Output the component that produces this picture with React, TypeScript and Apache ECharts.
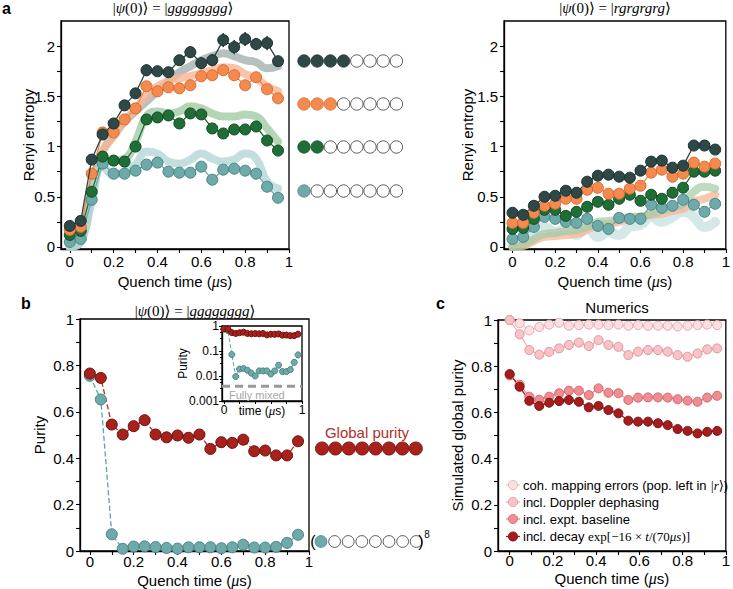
import React, { useEffect, useRef } from "react";
import * as echarts from "echarts";

const SANS = '"Liberation Sans", Arial, Helvetica, sans-serif';
const SERIF = '"Liberation Serif", "DejaVu Serif", "Times New Roman", serif';

// ---------- panel a (quench times) ----------
const tA = [0, 0.05, 0.1, 0.15, 0.2, 0.25, 0.3, 0.35, 0.4, 0.45, 0.5, 0.55, 0.6, 0.65, 0.7, 0.75, 0.8, 0.85, 0.9, 0.95];

// |gggggggg> : subsystem sizes 4,3,2,1
const aL_dark = [0.21, 0.26, 0.87, 1.12, 1.23, 1.41, 1.53, 1.76, 1.75, 1.74, 1.86, 1.94, 1.83, 1.86, 2.06, 1.99, 2.07, 2.02, 2.03, 1.85];
const aL_darkErr = [0.03, 0.03, 0.04, 0.04, 0.05, 0.05, 0.05, 0.06, 0.05, 0.05, 0.05, 0.06, 0.06, 0.06, 0.07, 0.07, 0.07, 0.06, 0.07, 0.05];
const aL_orange = [0.17, 0.2, 0.73, 1.14, 1.14, 1.27, 1.38, 1.6, 1.55, 1.59, 1.58, 1.61, 1.7, 1.71, 1.76, 1.71, 1.61, 1.69, 1.57, 1.48];
const aL_green = [0.12, 0.16, 0.55, 0.9, 0.86, 0.85, 1.0, 1.27, 1.29, 1.31, 1.23, 1.33, 1.32, 1.18, 1.13, 1.17, 1.17, 1.2, 1.06, 0.96];
const aL_teal = [0.05, 0.08, 0.47, 0.83, 0.73, 0.73, 0.76, 0.82, 0.84, 0.75, 0.74, 0.74, 0.8, 0.67, 0.77, 0.78, 0.76, 0.73, 0.6, 0.49];
// theory
const aL_thDark = [0.0, 0.1, 0.6, 0.95, 1.12, 1.25, 1.35, 1.45, 1.55, 1.65, 1.74, 1.8, 1.86, 1.9, 1.93, 1.9, 1.86, 1.84, 1.78, 1.8];
const aL_thOrange = [0.0, 0.1, 0.6, 0.95, 1.1, 1.25, 1.38, 1.5, 1.6, 1.65, 1.68, 1.7, 1.73, 1.76, 1.79, 1.78, 1.72, 1.68, 1.6, 1.55];
const aL_thGreen = [0.0, 0.05, 0.5, 0.85, 0.86, 0.88, 1.05, 1.3, 1.35, 1.33, 1.35, 1.4, 1.38, 1.33, 1.3, 1.3, 1.32, 1.3, 1.18, 1.05];
const aL_thTeal = [0.0, 0.05, 0.45, 0.8, 0.72, 0.75, 0.82, 0.95, 0.93, 0.85, 0.83, 0.87, 0.93, 0.88, 0.85, 0.87, 0.93, 0.88, 0.65, 0.58];

// |rgrgrgrg>
const aR_dark = [0.34, 0.32, 0.41, 0.5, 0.51, 0.56, 0.54, 0.65, 0.71, 0.72, 0.7, 0.69, 0.76, 0.85, 0.86, 0.79, 0.81, 1.01, 1.01, 0.97];
const aR_orange = [0.24, 0.24, 0.34, 0.41, 0.43, 0.48, 0.48, 0.57, 0.59, 0.53, 0.53, 0.58, 0.61, 0.74, 0.77, 0.7, 0.73, 0.84, 0.8, 0.83];
const aR_green = [0.18, 0.19, 0.28, 0.37, 0.37, 0.31, 0.35, 0.4, 0.45, 0.42, 0.48, 0.52, 0.46, 0.52, 0.48, 0.54, 0.59, 0.75, 0.75, 0.76];
const aR_teal = [0.08, 0.1, 0.2, 0.3, 0.28, 0.25, 0.24, 0.28, 0.21, 0.18, 0.29, 0.28, 0.28, 0.42, 0.39, 0.41, 0.47, 0.42, 0.35, 0.43];
const aR_thGreen = [0.0, 0.02, 0.08, 0.13, 0.14, 0.16, 0.17, 0.2, 0.25, 0.26, 0.27, 0.3, 0.3, 0.33, 0.36, 0.4, 0.43, 0.55, 0.6, 0.58];
const aR_thOrange = [0.0, 0.01, 0.06, 0.1, 0.11, 0.12, 0.13, 0.17, 0.22, 0.23, 0.25, 0.28, 0.3, 0.32, 0.33, 0.36, 0.38, 0.45, 0.48, 0.52];
const aR_thTeal = [0.02, 0.08, 0.15, 0.2, 0.15, 0.18, 0.12, 0.2, 0.1, 0.15, 0.12, 0.2, 0.22, 0.3, 0.25, 0.3, 0.35, 0.3, 0.2, 0.25];

// ---------- panel b ----------
const bGlobal = [0.765, 0.746, 0.545, 0.502, 0.538, 0.564, 0.502, 0.49, 0.498, 0.488, 0.502, 0.44, 0.469, 0.466, 0.48, 0.43, 0.433, 0.412, 0.412, 0.473];
const bProduct = [0.755, 0.653, 0.072, 0.0095, 0.019, 0.02, 0.017, 0.013, 0.01, 0.016, 0.016, 0.016, 0.012, 0.016, 0.027, 0.015, 0.015, 0.018, 0.035, 0.07];
const fullyMixed = 1 / 256;

// ---------- panel c ----------
const tC = [0, 0.046, 0.091, 0.137, 0.183, 0.229, 0.274, 0.32, 0.366, 0.411, 0.457, 0.503, 0.549, 0.594, 0.64, 0.686, 0.731, 0.777, 0.823, 0.869, 0.914, 0.96];
const cCoh = [1.0, 0.986, 0.955, 0.97, 0.98, 0.988, 0.975, 0.978, 0.98, 0.98, 0.978, 0.98, 0.975, 0.978, 0.975, 0.975, 0.975, 0.972, 0.975, 0.978, 0.98, 0.978];
const cDoppler = [1.0, 0.938, 0.87, 0.85, 0.862, 0.877, 0.892, 0.902, 0.887, 0.913, 0.892, 0.884, 0.848, 0.863, 0.87, 0.87, 0.863, 0.848, 0.841, 0.855, 0.873, 0.877];
const cBaseline = [0.76, 0.72, 0.668, 0.655, 0.668, 0.683, 0.694, 0.694, 0.675, 0.704, 0.685, 0.683, 0.654, 0.664, 0.665, 0.665, 0.664, 0.657, 0.651, 0.646, 0.664, 0.672];
const cDecay = [0.766, 0.711, 0.65, 0.628, 0.642, 0.649, 0.654, 0.646, 0.622, 0.628, 0.61, 0.596, 0.564, 0.56, 0.56, 0.553, 0.545, 0.528, 0.52, 0.509, 0.516, 0.52];
const cLegend = [
  "coh. mapping errors (pop. left in {mi||r}{m|⟩})",
  "incl. Doppler dephasing",
  "incl. expt. baseline",
  "incl. decay {m|exp[−16 × }{mi|t}{m|/(70}{mi|μs}{m|)]}",
];

// tick / label values
const xLabels = [0, 0.2, 0.4, 0.6, 0.8, 1];
const xTicks = [0, 0.1, 0.2, 0.3, 0.4, 0.5, 0.6, 0.7, 0.8, 0.9, 1];
const aYLabels = [0, 0.5, 1, 1.5, 2];
const aYTicks = [0, 0.25, 0.5, 0.75, 1, 1.25, 1.5, 1.75, 2];
const pYLabels = [0, 0.2, 0.4, 0.6, 0.8, 1];
const pYTicks = [0, 0.1, 0.2, 0.3, 0.4, 0.5, 0.6, 0.7, 0.8, 0.9, 1];

const COL = {
  dark: { fill: "#2e4747", border: "#1c3030", th: "#a3b2af" },
  orange: { fill: "#f58a4f", border: "#d96a30", th: "#f7b595" },
  green: { fill: "#1f6e35", border: "#124a22", th: "#a3caa5" },
  teal: { fill: "#6eaaaa", border: "#4a8585", th: "#b3d6d6" },
};

const zip = (t: number[], v: number[]) => t.map((x, i) => [x, v[i]]);

function xAx(gridIndex: number, min: number, max: number, nameGap: number, margin: number) {
  return {
    type: "value", gridIndex, min, max,
    axisLine: { show: true, onZero: false, lineStyle: { color: "#000", width: 1.3 } },
    axisTick: { show: true, customValues: xTicks, length: 4, lineStyle: { color: "#000", width: 1.1 } },
    axisLabel: { show: true, customValues: xLabels, color: "#000", fontSize: 15, fontFamily: SANS, margin },
    splitLine: { show: false },
    name: "Quench time ({m|μ}s)",
    nameLocation: "middle",
    nameGap,
    nameMoveOverlap: false,
    nameTextStyle: { color: "#000", fontSize: 15, fontFamily: SANS, rich: { m: { fontStyle: "italic", fontFamily: SERIF, fontSize: 16 } } },
  };
}
function yAx(gridIndex: number, min: number, max: number, labels: number[], ticks: number[], name: string, nameGap: number) {
  return {
    type: "value", gridIndex, min, max,
    axisLine: { show: true, onZero: false, lineStyle: { color: "#000", width: 1.3 } },
    axisTick: { show: true, customValues: ticks, length: 4, lineStyle: { color: "#000", width: 1.1 } },
    axisLabel: { show: true, customValues: labels, color: "#000", fontSize: 15, fontFamily: SANS, margin: 6 },
    splitLine: { show: false },
    name, nameLocation: "middle", nameGap, nameMoveOverlap: false,
    nameTextStyle: { color: "#000", fontSize: 15, fontFamily: SANS },
  };
}

function dataSeries(xi: number, t: number[], v: number[], c: { fill: string; border: string }, size = 11, lineColor?: string, dashed = false, z = 5) {
  return {
    type: "line", xAxisIndex: xi, yAxisIndex: xi, data: zip(t, v),
    symbol: "circle", symbolSize: size, showSymbol: true,
    itemStyle: { color: c.fill, borderColor: c.border, borderWidth: 1 },
    lineStyle: { color: lineColor || c.fill, width: 1.3, type: dashed ? "dashed" : "solid" },
    z, silent: true,
  };
}
function theory(xi: number, t: number[], v: number[], color: string, width = 8, opacity = 0.8) {
  return {
    type: "line", xAxisIndex: xi, yAxisIndex: xi, data: zip(t, v), smooth: 0.5,
    showSymbol: false, symbol: "none",
    lineStyle: { color, width, opacity, cap: "round", join: "round" }, z: 2, silent: true,
  };
}

export default function App() {
  const ref = useRef<HTMLDivElement>(null);
  useEffect(() => {
    document.body.style.margin = "0";
    const chart = echarts.init(ref.current!, null, { renderer: "svg" });

    const graphic: any[] = [];
    const txt = (x: number, y: number, text: string, o: any = {}) =>
      graphic.push({
        type: "text", x, y, z: 50,
        style: {
          text, fontFamily: o.fontFamily || SANS, fontSize: o.fontSize || 15, fontWeight: o.fontWeight || "normal",
          fill: o.fill || "#000", align: o.align || "left", textAlign: o.align || "left",
          verticalAlign: "middle", textVerticalAlign: "middle", rich: o.rich,
        },
      });
    const ket = (s: string) => "|{i|ψ}(0)⟩ = |{i|" + s + "}⟩";
    const ketRich = { i: { fontStyle: "italic", fontFamily: SERIF, fontSize: 15 } };

    // panel letters & titles
    txt(2, 8, "a", { fontWeight: "bold", fontSize: 16 });
    txt(21, 303, "b", { fontWeight: "bold", fontSize: 16 });
    txt(436, 303, "c", { fontWeight: "bold", fontSize: 16 });
    txt(173, 8, ket("gggggggg"), { fontFamily: SERIF, fontSize: 15, align: "center", rich: ketRich });
    txt(615, 8, ket("rgrgrgrg"), { fontFamily: SERIF, fontSize: 15, align: "center", rich: ketRich });
    txt(195, 311, ket("gggggggg"), { fontFamily: SERIF, fontSize: 15, align: "center", rich: ketRich });
    txt(617, 307, "Numerics", { fontSize: 15, align: "center" });

    // panel a legend (subsystem pictograms)
    const rowCols = [COL.dark, COL.orange, COL.green, COL.teal];
    const rowY = [61, 104, 147, 191];
    const filled = [4, 3, 2, 1];
    rowCols.forEach((c, r) => {
      for (let k = 0; k < 8; k++) {
        graphic.push({
          type: "circle", z: 50,
          shape: { cx: 304 + k * 13.2, cy: rowY[r], r: 6.2 },
          style: { fill: k < filled[r] ? c.fill : "#fff", stroke: k < filled[r] ? c.border : "#333", lineWidth: 0.8 },
        });
      }
    });

    // panel b legend
    txt(367, 432, "Global purity", { fill: "#b0302a", align: "center", fontSize: 15 });
    for (let k = 0; k < 8; k++) {
      graphic.push({ type: "circle", z: 50, shape: { cx: 322 + k * 13.4, cy: 448.5, r: 6.6 }, style: { fill: "#a8221b", stroke: "#6e0f0b", lineWidth: 0.8 } });
      graphic.push({ type: "circle", z: 50, shape: { cx: 321 + k * 13.6, cy: 541.5, r: 5.9 }, style: { fill: k === 0 ? "#6eaaaa" : "#fff", stroke: k === 0 ? "#4a8585" : "#333", lineWidth: 0.8 } });
    }
    txt(313, 541, "(", { fontSize: 16, align: "center" });
    txt(421, 541, ")", { fontSize: 16, align: "center" });
    txt(427, 534, "8", { fontSize: 10, align: "center" });

    // inset "Fully mixed"
    txt(229, 395, "Fully mixed", { fontSize: 11, fill: "#a5a5a5" });

    // panel c legend
    const cCols = [
      { fill: "#fbdfe1", border: "#e6a7ae", line: "#f3c4c9" },
      { fill: "#f7c3c7", border: "#e0939b", line: "#f0b0b6" },
      { fill: "#f08d93", border: "#d5646c", line: "#ef8a90" },
      { fill: "#a51c1c", border: "#7a1010", line: "#a51c1c" },
    ];
    const legY = [485, 502, 519, 536.5];
    cCols.forEach((c, r) => {
      graphic.push({ type: "line", z: 50, shape: { x1: 506, y1: legY[r], x2: 520, y2: legY[r] }, style: { stroke: c.line, lineWidth: 1.3 } });
      graphic.push({ type: "circle", z: 51, shape: { cx: 513, cy: legY[r], r: 4.6 }, style: { fill: c.fill, stroke: c.border, lineWidth: 0.8 } });
      txt(523, legY[r], cLegend[r], {
        fontSize: 13,
        rich: {
          m: { fontFamily: SERIF, fontSize: 13 },
          mi: { fontFamily: SERIF, fontSize: 13, fontStyle: "italic" },
        },
      });
    });

    const option: any = {
      animation: false,
      backgroundColor: "#fff",
      grid: [
        { left: 61, top: 21, width: 228, height: 228, show: true, borderColor: "#000", borderWidth: 1.3, backgroundColor: "transparent" },
        { left: 504, top: 21, width: 227, height: 228, show: true, borderColor: "#000", borderWidth: 1.3, backgroundColor: "transparent" },
        { left: 80, top: 319, width: 229, height: 232, show: true, borderColor: "#000", borderWidth: 1.3, backgroundColor: "transparent" },
        { left: 222, top: 326, width: 80, height: 75, show: true, borderColor: "#000", borderWidth: 1.3, backgroundColor: "#fff", z: 10 },
        { left: 498, top: 320, width: 228, height: 231, show: true, borderColor: "#000", borderWidth: 1.3, backgroundColor: "transparent" },
      ],
      xAxis: [
        xAx(0, -0.04, 1, 24, 5),
        xAx(1, -0.04, 1, 24, 5),
        xAx(2, -0.045, 1, 21, 3),
        {
          type: "value", gridIndex: 3, min: -0.026, max: 1, z: 11,
          axisLine: { show: true, onZero: false, lineStyle: { color: "#000", width: 1.3 } },
          axisTick: { show: true, customValues: xLabels, length: 3, lineStyle: { color: "#000" } },
          axisLabel: { show: true, customValues: [0, 1], color: "#000", fontSize: 12, fontFamily: SANS, margin: 3 },
          splitLine: { show: false },
          name: "time ({m|μ}s)", nameLocation: "middle", nameGap: 3, nameMoveOverlap: false,
          nameTextStyle: { color: "#000", fontSize: 12, fontFamily: SANS, rich: { m: { fontStyle: "italic", fontFamily: SERIF, fontSize: 13 } } },
        },
        xAx(4, -0.054, 1, 19, 2),
      ],
      yAxis: [
        yAx(0, -0.02, 2.25, aYLabels, aYTicks, "Renyi entropy", 25),
        yAx(1, -0.02, 2.25, aYLabels, aYTicks, "Renyi entropy", 29),
        yAx(2, 0, 1, pYLabels, pYTicks, "Purity", 33),
        {
          type: "log", gridIndex: 3, min: 0.001, max: 1, logBase: 10, z: 11,
          axisLine: { show: true, onZero: false, lineStyle: { color: "#000", width: 1.3 } },
          axisTick: { show: true, length: 3, lineStyle: { color: "#000" } },
          minorTick: { show: true, splitNumber: 4, length: 2, lineStyle: { color: "#000" } },
          axisLabel: {
            show: true, color: "#000", fontSize: 12, fontFamily: SANS, margin: 3,
            formatter: (v: number) => String(Number(v.toPrecision(1))),
          },
          splitLine: { show: false },
          name: "Purity", nameLocation: "middle", nameGap: 33, nameMoveOverlap: false,
          nameTextStyle: { color: "#000", fontSize: 12, fontFamily: SANS },
        },
        yAx(4, 0, 1, pYLabels, pYTicks, "Simulated global purity", 33),
      ],
      series: [
        // panel a left
        theory(0, tA, aL_thDark, COL.dark.th),
        theory(0, tA, aL_thOrange, COL.orange.th),
        theory(0, tA, aL_thGreen, COL.green.th),
        theory(0, tA, aL_thTeal, COL.teal.th),
        dataSeries(0, tA, aL_teal, COL.teal),
        dataSeries(0, tA, aL_green, COL.green),
        dataSeries(0, tA, aL_orange, COL.orange),
        {
          type: "custom", xAxisIndex: 0, yAxisIndex: 0, z: 6, silent: true,
          data: tA.map((t, i) => [t, aL_dark[i], aL_darkErr[i]]),
          encode: { x: 0, y: 1 },
          renderItem: (_p: any, api: any) => {
            const a = api.coord([api.value(0), api.value(1) + api.value(2)]);
            const b = api.coord([api.value(0), api.value(1) - api.value(2)]);
            return { type: "line", shape: { x1: a[0], y1: a[1], x2: b[0], y2: b[1] }, style: { stroke: COL.dark.fill, lineWidth: 1.6 } };
          },
        },
        dataSeries(0, tA, aL_dark, COL.dark, 11, undefined, false, 7),
        // panel a right
        theory(1, tA, aR_thTeal, COL.teal.th, 10, 0.55),
        theory(1, tA, aR_thOrange, COL.orange.th, 8, 0.75),
        theory(1, tA, aR_thGreen, COL.green.th, 8, 0.7),
        dataSeries(1, tA, aR_teal, COL.teal),
        dataSeries(1, tA, aR_green, COL.green),
        dataSeries(1, tA, aR_orange, COL.orange),
        dataSeries(1, tA, aR_dark, COL.dark),
        // panel b
        dataSeries(2, tA, bProduct, COL.teal, 11, "#5fa3a3", true),
        dataSeries(2, tA, bGlobal, { fill: "#a8221b", border: "#6e0f0b" }, 11, "#b0302a", true),
        // inset
        {
          type: "line", xAxisIndex: 3, yAxisIndex: 3, z: 12, silent: true,
          data: [[-0.026, fullyMixed], [1, fullyMixed]], showSymbol: false, symbol: "none",
          lineStyle: { color: "#999", width: 3, type: [8, 5] },
        },
        { ...dataSeries(3, tA, bProduct, COL.teal, 6, "#5fa3a3", true, 13), lineStyle: { color: "#5fa3a3", width: 1, type: "dashed" } },
        { ...dataSeries(3, tA, bGlobal, { fill: "#a8221b", border: "#6e0f0b" }, 6, "#b0302a", true, 14), lineStyle: { color: "#b0302a", width: 1, type: "dashed" } },
        // panel c
        dataSeries(4, tC, cCoh, { fill: cCols[0].fill, border: cCols[0].border }, 9, cCols[0].line),
        dataSeries(4, tC, cDoppler, { fill: cCols[1].fill, border: cCols[1].border }, 9, cCols[1].line),
        dataSeries(4, tC, cBaseline, { fill: cCols[2].fill, border: cCols[2].border }, 9, cCols[2].line),
        dataSeries(4, tC, cDecay, { fill: cCols[3].fill, border: cCols[3].border }, 9, cCols[3].line),
      ],
      graphic,
    };
    chart.setOption(option);
    return () => chart.dispose();
  }, []);
  return <div ref={ref} style={{ width: 733, height: 589 }} />;
}
